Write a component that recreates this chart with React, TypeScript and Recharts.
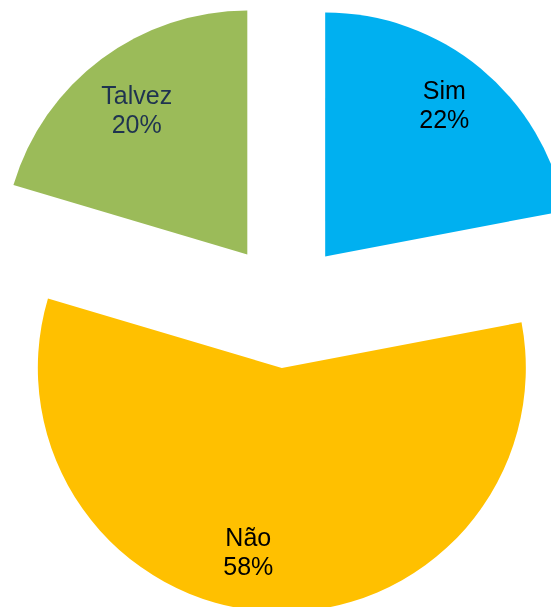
import { Cell, Pie, PieChart, Sector } from "recharts";

const CATEGORIES = ["Sim", "Não", "Talvez"];
// slice angles; labels show them rounded
const SHARES = [22.0, 57.6, 20.4];
const COLORS = ["#00B0F0", "#FFC000", "#9BBB59"];
const TEXT_COLORS = ["#000000", "#000000", "#1F3350"];

const data = CATEGORIES.map((name, i) => ({ name, value: SHARES[i] }));

const RAD = Math.PI / 180;
const EXPLODE = 63;
const LABEL_R = 190;
// small hand nudges so labels sit where the original placed them
const LABEL_NUDGE = [
  [-2, -7],
  [-24, -8],
  [3, 6],
];

// Each slice is pushed out from the centre along its mid angle.
function ExplodedSector(props: any) {
  const { cx, cy, midAngle } = props;
  const dx = EXPLODE * Math.cos(-midAngle * RAD);
  const dy = EXPLODE * Math.sin(-midAngle * RAD);
  return <Sector {...props} cx={cx + dx} cy={cy + dy} stroke="none" />;
}

function renderLabel(props: any) {
  const { cx, cy, midAngle, index, name, value } = props;
  const r = EXPLODE + LABEL_R;
  const x = cx + r * Math.cos(-midAngle * RAD) + LABEL_NUDGE[index][0];
  const y = cy + r * Math.sin(-midAngle * RAD) + LABEL_NUDGE[index][1];
  return (
    <text
      x={x}
      y={y}
      textAnchor="middle"
      fontFamily="Liberation Sans, Arial, sans-serif"
      fontSize={25}
      fill={TEXT_COLORS[index]}
    >
      <tspan x={x} dy={-4}>{name}</tspan>
      <tspan x={x} dy={29}>{`${Math.round(value)}%`}</tspan>
    </text>
  );
}

export default function App() {
  // fixed to the window corner so the oversized pie is not pushed into scrolling
  return (
    <div style={{ position: "fixed", top: 0, left: 0, width: 551, height: 607, overflow: "hidden" }}>
      <PieChart width={551} height={607} margin={{ top: 0, right: 0, bottom: 0, left: 0 }}>
        <Pie
          data={data}
          dataKey="value"
          nameKey="name"
          cx={285}
          cy={305}
          outerRadius={244}
          startAngle={90}
          endAngle={-270}
          stroke="none"
          labelLine={false}
          label={renderLabel}
          shape={ExplodedSector}
          inactiveShape={ExplodedSector}
          activeShape={ExplodedSector}
          isAnimationActive={false}
        >
          {data.map((d, i) => (
            <Cell key={d.name} fill={COLORS[i]} />
          ))}
        </Pie>
      </PieChart>
    </div>
  );
}
